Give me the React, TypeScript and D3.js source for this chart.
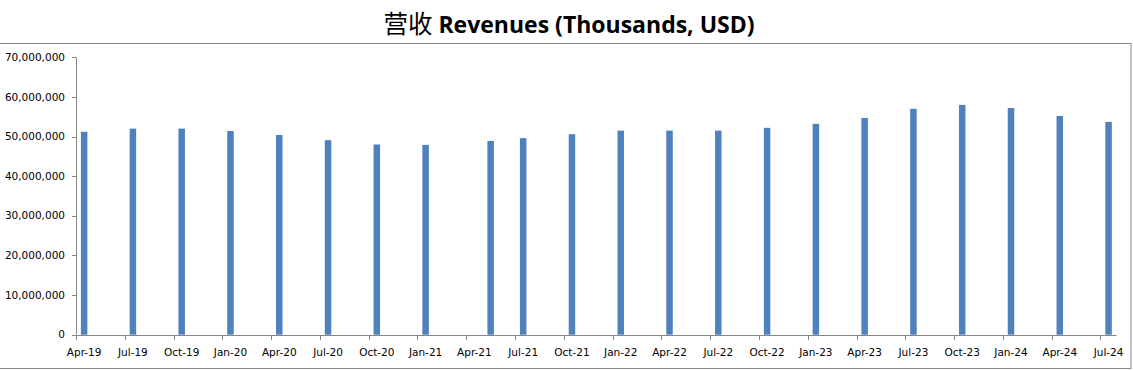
import React from "react";
import * as d3 from "d3";

const months: string[] = [
  "2019-04", "2019-07", "2019-10", "2020-01", "2020-04", "2020-07", "2020-10",
  "2021-01", "2021-05", "2021-07", "2021-10", "2022-01", "2022-04", "2022-07",
  "2022-10", "2023-01", "2023-04", "2023-07", "2023-10", "2024-01", "2024-04", "2024-07",
];
const revenues: number[] = [
  51200000, 52000000, 52000000, 51400000, 50400000, 49100000, 48000000,
  47900000, 48900000, 49600000, 50600000, 51500000, 51500000, 51500000,
  52200000, 53200000, 54700000, 57000000, 58000000, 57200000, 55200000, 53700000,
];
const tickMonths: string[] = [
  "2019-04", "2019-07", "2019-10", "2020-01", "2020-04", "2020-07", "2020-10",
  "2021-01", "2021-04", "2021-07", "2021-10", "2022-01", "2022-04", "2022-07",
  "2022-10", "2023-01", "2023-04", "2023-07", "2023-10", "2024-01", "2024-04", "2024-07",
];
const yTicks: number[] = [0, 10000000, 20000000, 30000000, 40000000, 50000000, 60000000, 70000000];
const axisStart = "2019-04";
const axisEnd = "2024-08";
const title = "营收 Revenues (Thousands, USD)";

const parse = d3.timeParse("%Y-%m");
const fmtMonth = d3.timeFormat("%b-%y");
const fmtNum = d3.format(",");

export default function App() {
  const W = 1133, H = 371;
  const start = parse(axisStart)!;
  const end = parse(axisEnd)!;
  const mIdx = (s: string) => d3.timeMonth.count(start, parse(s)!);
  const x = d3.scaleLinear().domain([0, d3.timeMonth.count(start, end)]).range([76, 1116.7]);
  const y = d3.scaleLinear().domain([0, 70000000]).range([334.7, 57.3]);
  const slot = x(1) - x(0);
  const bw = slot * 0.4;
  const axisColor = "#868686";
  const font = "'DejaVu Sans', Verdana, sans-serif";

  return (
    <svg width={W} height={H} style={{ position: "absolute", left: 0, top: 0 }}>
      <rect x={0} y={0} width={W} height={H} fill="#fff" />
      <rect x={-1} y={43.5} width={1132} height={325} fill="none" stroke="#888" strokeWidth={1} />
      <text x={569} y={33} textAnchor="middle" fontFamily="'Open Sans', sans-serif" fontWeight="bold" fontSize={23} fill="#000">
        <tspan fontFamily="'Noto Sans CJK SC', sans-serif" fontWeight="normal" fontSize={24.5}>营收</tspan>
        <tspan>{title.slice(2)}</tspan>
      </text>
      {/* bars */}
      {months.map((m, i) => {
        const cx = x(mIdx(m) + 0.5);
        return (
          <rect key={m} x={cx - bw / 2} y={y(revenues[i])} width={bw} height={y(0) - y(revenues[i])} fill="#4F81BD" />
        );
      })}
      {/* y axis */}
      <line x1={76.5} x2={76.5} y1={y(70000000)} y2={y(0)} stroke={axisColor} />
      {yTicks.map((t) => (
        <g key={t}>
          <line x1={72} x2={76.5} y1={Math.round(y(t)) + 0.5} y2={Math.round(y(t)) + 0.5} stroke={axisColor} />
          <text x={65} y={y(t)} dy="0.35em" textAnchor="end" fontFamily={font} fontSize={10.5} fill="#000">
            {fmtNum(t)}
          </text>
        </g>
      ))}
      {/* x axis */}
      <line x1={76} x2={x(d3.timeMonth.count(start, end))} y1={Math.round(y(0)) + 0.5} y2={Math.round(y(0)) + 0.5} stroke={axisColor} />
      {tickMonths.map((m) => {
        const tx = Math.round(x(mIdx(m))) + 0.5;
        return (
          <g key={m}>
            <line x1={tx} x2={tx} y1={Math.round(y(0)) + 0.5} y2={Math.round(y(0)) + 5} stroke={axisColor} />
            <text x={x(mIdx(m) + 0.5)} y={356} textAnchor="middle" fontFamily={font} fontSize={10.5} fill="#000">
              {fmtMonth(parse(m)!)}
            </text>
          </g>
        );
      })}
    </svg>
  );
}
